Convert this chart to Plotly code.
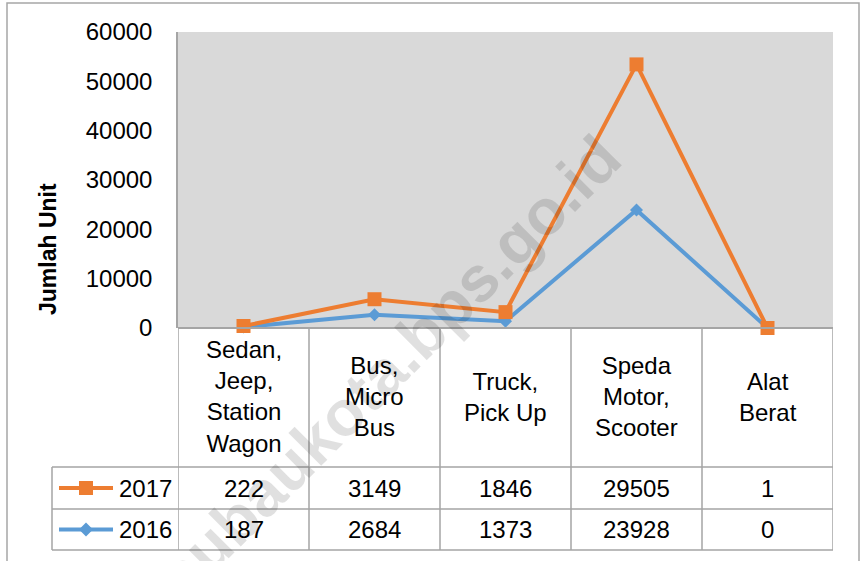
import plotly.graph_objects as go

# ---- data ----
categories = ["Sedan, Jeep, Station Wagon", "Bus, Micro Bus", "Truck, Pick Up",
              "Speda Motor, Scooter", "Alat Berat"]
category_labels = ["Sedan,<br>Jeep,<br>Station<br>Wagon", "Bus,<br>Micro<br>Bus",
                   "Truck,<br>Pick Up", "Speda<br>Motor,<br>Scooter", "Alat<br>Berat"]
series_names = ["2017", "2016"]
values_2017 = [222, 3149, 1846, 29505, 1]
values_2016 = [187, 2684, 1373, 23928, 0]
y_ticks = [0, 10000, 20000, 30000, 40000, 50000, 60000]
y_title = "Jumlah Unit"
watermark = "baubaukota.bps.go.id"

# ---- styling ----
W, H = 861, 561
FONT = "Liberation Sans, Arial, sans-serif"
ORANGE = "#ED7D31"
BLUE = "#5B9BD5"
GRID = "#a5a5a5"
TXT = 24


def px(x):
    return x / W


def py(y):
    return 1 - y / H


PLOT_L, PLOT_R, PLOT_T, PLOT_B = 178, 833, 32, 328
ROW_HDR_B, ROW1_B, ROW2_B = 467, 509, 550
LEG_L = 52

fig = go.Figure()
idx = list(range(len(categories)))

# stacked line chart: 2016 at bottom, 2017 stacked on top
fig.add_trace(go.Scatter(
    x=idx, y=values_2016, name=series_names[1], stackgroup="one", fill="none",
    mode="lines+markers", line=dict(color=BLUE, width=4),
    marker=dict(symbol="diamond", size=10, color=BLUE), cliponaxis=False,
    showlegend=False))
fig.add_trace(go.Scatter(
    x=idx, y=values_2017, name=series_names[0], stackgroup="one", fill="none",
    mode="lines+markers", line=dict(color=ORANGE, width=4),
    marker=dict(symbol="square", size=14, color=ORANGE), cliponaxis=False,
    showlegend=False))

shapes = []
annotations = []

# outer chart border
shapes.append(dict(type="rect", xref="paper", yref="paper", x0=px(7), x1=px(859),
                   y0=py(600), y1=py(3), line=dict(color="#a6a6a6", width=1.5),
                   layer="below"))

# table: vertical lines at category boundaries
for i in range(len(categories) + 1):
    shapes.append(dict(type="line", xref="x", yref="paper", x0=i - 0.5, x1=i - 0.5,
                       y0=py(PLOT_B), y1=py(ROW2_B), line=dict(color=GRID, width=1.5)))
# table top (axis) line
shapes.append(dict(type="line", xref="paper", yref="paper", x0=px(PLOT_L), x1=px(PLOT_R),
                   y0=py(PLOT_B), y1=py(PLOT_B), line=dict(color=GRID, width=2)))
# horizontal rows
for yy in (ROW_HDR_B, ROW1_B, ROW2_B):
    shapes.append(dict(type="line", xref="paper", yref="paper", x0=px(LEG_L), x1=px(PLOT_R),
                       y0=py(yy), y1=py(yy), line=dict(color=GRID, width=1.5)))
shapes.append(dict(type="line", xref="paper", yref="paper", x0=px(LEG_L), x1=px(LEG_L),
                   y0=py(ROW_HDR_B), y1=py(ROW2_B), line=dict(color=GRID, width=1.5)))

# legend keys inside table
row_centers = [(ROW_HDR_B + ROW1_B) / 2, (ROW1_B + ROW2_B) / 2]
colors = [ORANGE, BLUE]
for r, (yc, col) in enumerate(zip(row_centers, colors)):
    shapes.append(dict(type="line", xref="paper", yref="paper", x0=px(59), x1=px(113),
                       y0=py(yc), y1=py(yc), line=dict(color=col, width=4)))
    if r == 0:
        shapes.append(dict(type="rect", xref="paper", yref="paper", x0=px(79), x1=px(93),
                           y0=py(yc + 7), y1=py(yc - 7), fillcolor=col,
                           line=dict(width=0)))
    else:
        cx = 86
        path = (f"M {px(cx-7)} {py(yc)} L {px(cx)} {py(yc-7)} L {px(cx+7)} {py(yc)} "
                f"L {px(cx)} {py(yc+7)} Z")
        shapes.append(dict(type="path", xref="paper", yref="paper", path=path,
                           fillcolor=col, line=dict(width=0)))
    annotations.append(dict(x=px(117), y=py(yc), xref="paper", yref="paper",
                            text=series_names[r], showarrow=False, xanchor="left",
                            yanchor="middle", font=dict(family=FONT, size=TXT, color="black")))

# category header cells
for i, lab in enumerate(category_labels):
    annotations.append(dict(x=i, y=py((PLOT_B + ROW_HDR_B) / 2 - 1), xref="x", yref="paper",
                            text=lab, showarrow=False, xanchor="center", yanchor="middle",
                            font=dict(family=FONT, size=TXT, color="black")))

# table values
for r, vals in enumerate([values_2017, values_2016]):
    for i, v in enumerate(vals):
        annotations.append(dict(x=i, y=py(row_centers[r]), xref="x", yref="paper",
                                text=str(v), showarrow=False, xanchor="center",
                                yanchor="middle",
                                font=dict(family=FONT, size=TXT, color="black")))

# y axis title
annotations.append(dict(x=px(48), y=py(249), xref="paper", yref="paper", text=y_title,
                        textangle=-90, showarrow=False, xanchor="center", yanchor="middle",
                        font=dict(family=FONT, size=23, color="black", weight="bold")))

# watermark
annotations.append(dict(x=px(375), y=py(381), xref="paper", yref="paper", text=watermark,
                        textangle=-45, showarrow=False, xanchor="center", yanchor="middle",
                        font=dict(family=FONT, size=64, color="rgba(0,0,0,0.12)",
                                  weight="bold")))

fig.update_layout(
    width=W, height=H, margin=dict(l=0, r=0, t=0, b=0, autoexpand=False),
    paper_bgcolor="white", plot_bgcolor="#d9d9d9",
    xaxis=dict(domain=[px(PLOT_L), px(PLOT_R)], range=[-0.5, len(categories) - 0.5],
               showticklabels=False, showgrid=False, zeroline=False, showline=False,
               fixedrange=True, automargin=False),
    yaxis=dict(domain=[py(PLOT_B), py(PLOT_T)], range=[y_ticks[0], y_ticks[-1]],
               tickvals=y_ticks, ticktext=[str(t) for t in y_ticks], showgrid=False,
               zeroline=False, showline=True, linecolor=GRID, linewidth=1.5,
               ticks="", ticklabelstandoff=19, automargin=False,
               tickfont=dict(family=FONT, size=TXT, color="black")),
    shapes=shapes, annotations=annotations, showlegend=False,
)

fig.write_html("out.html", config={"responsive": False, "displayModeBar": False},
               post_script="document.body.style.margin='0px';"
                           "document.body.style.overflow='hidden';")
